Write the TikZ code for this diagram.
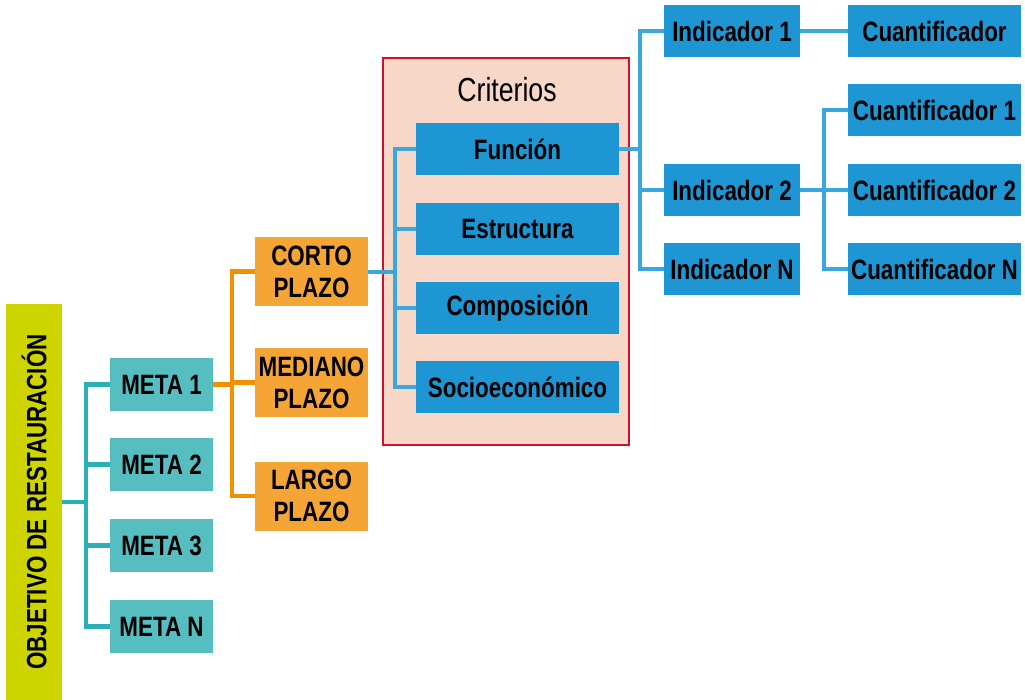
\documentclass[tikz,border=0pt]{standalone}
\usepackage{fontspec}
\setmainfont{Liberation Sans}[FakeStretch=0.8]

\definecolor{objyellow}{RGB}{205,212,0}
\definecolor{metafill}{RGB}{86,190,193}
\definecolor{metaline}{RGB}{43,176,184}
\definecolor{plazofill}{RGB}{244,165,53}
\definecolor{plazoline}{RGB}{243,146,0}
\definecolor{critfill}{RGB}{247,216,200}
\definecolor{critred}{RGB}{208,17,43}
\definecolor{bluefill}{RGB}{30,150,212}
\definecolor{blueline}{RGB}{58,168,222}

\begin{document}
\begin{tikzpicture}[x=0.75pt,y=-0.75pt,
    box/.style={font=\bfseries\fontsize{21}{24}\selectfont, text=black,
      inner sep=0pt, align=center},
    meta/.style={box, fill=metafill, minimum width=77.25pt, minimum height=39.75pt},
    plazo/.style={box, fill=plazofill, minimum width=84.75pt, minimum height=51.75pt},
    crit/.style={box, fill=bluefill, minimum width=152.25pt, minimum height=39pt},
    ind/.style={box, fill=bluefill, minimum width=102pt, minimum height=39pt},
    cuant/.style={box, fill=bluefill, minimum width=129.75pt, minimum height=39pt},
    tline/.style={metaline, line width=3.2pt},
    oline/.style={plazoline, line width=3.2pt},
    bline/.style={blueline, line width=3pt}]
  \useasboundingbox (0,0) rectangle (1025,700);

  % criterios frame
  \node [draw=critred, line width=1.6pt, fill=critfill, inner sep=0pt,
    minimum width=184.5pt, minimum height=290.25pt] (critbox) at (506,251.5) {};
  \node [font=\fontsize{25}{28}\selectfont] (crittitle) at (507,90) {Criterios};

  % objetivo
  \node [box, fill=objyellow, minimum width=42pt, minimum height=297pt] (obj) at (34,502)
    {\rotatebox{90}{OBJETIVO DE RESTAURACIÓN}};

  % metas
  \node [meta] (m1) at (161.5,384.5) {META 1};
  \node [meta] (m2) at (161.5,464.5) {META 2};
  \node [meta] (m3) at (161.5,545.5) {META 3};
  \node [meta] (mn) at (161.5,626.5) {META N};

  % plazos
  \node [plazo] (corto) at (311.5,271.5) {CORTO\\PLAZO};
  \node [plazo] (mediano) at (311.5,382.5) {MEDIANO\\PLAZO};
  \node [plazo] (largo) at (311.5,496) {LARGO\\PLAZO};

  % criterios
  \node [crit] (funcion) at (517.5,149) {Función};
  \node [crit] (estructura) at (517.5,229) {Estructura};
  \node [crit] (composicion) at (517.5,308) {Composición};
  \node [crit] (socio) at (517.5,387) {Socioeconómico};

  % indicadores
  \node [ind] (ind1) at (732,31) {Indicador 1};
  \node [ind] (ind2) at (732,190) {Indicador 2};
  \node [ind] (indn) at (732,269) {Indicador N};

  % cuantificadores
  \node [cuant] (cuant) at (934.5,31) {Cuantificador};
  \node [cuant] (cuant1) at (934.5,110) {Cuantificador 1};
  \node [cuant] (cuant2) at (934.5,190) {Cuantificador 2};
  \node [cuant] (cuantn) at (934.5,269) {Cuantificador N};

  % connectors
  \foreach \m in {m1,m2,m3,mn}
    \draw [tline] (obj.east) -- ++(24,0) |- (\m.west);
  \foreach \p in {corto,mediano,largo}
    \draw [oline] (m1.east) -- ++(19,0) |- (\p.west);
  \foreach \c in {funcion,estructura,composicion,socio}
    \draw [bline] (corto.east) -- ++(27,0) |- (\c.west);
  \foreach \i in {ind1,ind2,indn}
    \draw [bline] (funcion.east) -- ++(21,0) |- (\i.west);
  \draw [bline] (ind1) -- (cuant);
  \foreach \q in {cuant1,cuant2,cuantn}
    \draw [bline] (ind2.east) -- ++(24,0) |- (\q.west);
\end{tikzpicture}
\end{document}
